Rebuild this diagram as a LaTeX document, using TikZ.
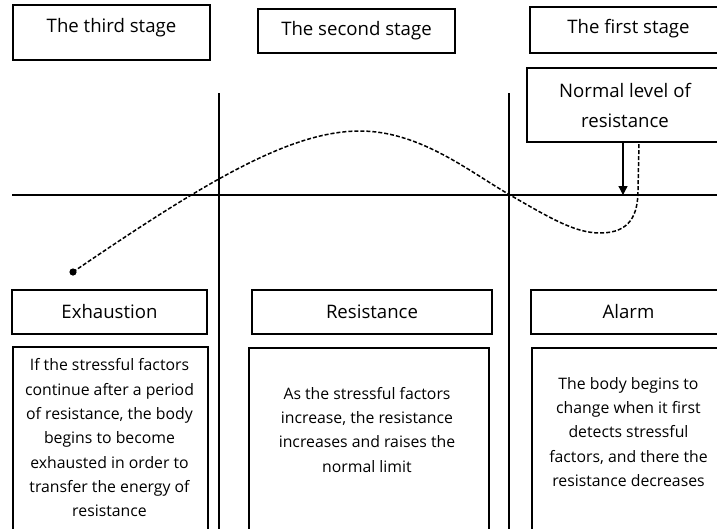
\documentclass[tikz,border=0pt]{standalone}
\usepackage{fontspec}
\setmainfont{Open Sans}[Ligatures=NoCommon]
\usetikzlibrary{arrows.meta}
\begin{document}
\begin{tikzpicture}[x=1pt,y=-1pt,
  box/.style={draw,line width=1.5pt,inner sep=0pt,minimum height=44pt},
  labbox/.style={box,font=\fontsize{18.6}{22}\selectfont},
  headtext/.style={inner sep=0pt,font=\fontsize{18.6}{22}\selectfont},
  descbox/.style={draw,line width=1.5pt,inner sep=0pt,anchor=north west},
  desctext/.style={anchor=north,inner sep=0pt,align=center,font=\fontsize{15.8}{24.3}\selectfont},
  axis/.style={line width=2pt},
  curve/.style={line width=1.5pt,dash pattern=on 4pt off 2pt}]
\useasboundingbox (0,0) rectangle (717,528);
\clip (0,0) rectangle (717,528);
\fill[white] (0,0) rectangle (717,528);

% top stage boxes
\node[box,minimum width=197pt,minimum height=55pt] (third) at (111.5,32.5) {};
\node[headtext] (thirdt) at (111.5,27.5) {The third stage};
\node[box,minimum width=197pt] (second) at (356.5,31) {};
\node[headtext] (secondt) at (356.5,31) {The second stage};
\node[box,minimum width=197pt,minimum height=46pt] (first) at (628.5,30) {};
\node[headtext] (firstt) at (628.5,29) {The first stage};
\node[box,minimum width=196pt,minimum height=74pt,align=center,font=\fontsize{18.6}{30}\selectfont] (normal) at (625,105) {Normal level of\\resistance};

% axes
\coordinate (hL) at (12,195);
\coordinate (hR) at (730,195);
\coordinate (v1t) at (219,93);
\coordinate (v1b) at (219,540);
\coordinate (v2t) at (509,93);
\coordinate (v2b) at (509,540);
\draw[axis] (hL) -- (hR);
\draw[axis] (v1t) -- (v1b);
\draw[axis] (v2t) -- (v2b);

% arrow from normal level box
\coordinate (arrtip) at (623,195);
\draw[line width=1.3pt,-{Triangle[length=9pt,width=9pt]}] (normal.south -| arrtip) -- (arrtip);

% dashed resistance curve
\coordinate (start) at (73,272);
\coordinate (peak) at (360,131);
\coordinate (cross) at (510,195);
\coordinate (low) at (600,233);
\coordinate (up) at (638,190);
\coordinate (endc) at (639,142);
\draw[curve] (start) .. controls (205,182) and (290,131) .. (peak)
  .. controls (420,131) and (470,172) .. (cross)
  .. controls (550,218) and (575,233) .. (low)
  .. controls (630,233) and (638,215) .. (up) -- (endc);
\fill (start) circle (3.6pt);

% stage name boxes
\node[labbox,minimum width=195pt] (exh) at (109.5,312) {Exhaustion};
\node[labbox,minimum width=240pt] (res) at (372,312) {Resistance};
\node[labbox,minimum width=195pt] (alarm) at (628.5,312) {Alarm};

% description boxes
\node[descbox,minimum width=195pt,minimum height=200pt] (exhd) at (12,346) {};
\node[descbox,minimum width=240pt,minimum height=200pt] (resd) at (248,347) {};
\node[descbox,minimum width=195pt,minimum height=200pt] (alarmd) at (531,347) {};

\node[desctext] (exht) at (109.5,358.5) {If the stressful factors\\continue after a period\\of resistance, the body\\begins to become\\exhausted in order to\\transfer the energy of\\resistance};
\node[desctext] (rest) at (367,387) {As the stressful factors\\increase, the resistance\\increases and raises the\\normal limit};
\node[desctext] (alarmt) at (628.5,377) {The body begins to\\change when it first\\detects stressful\\factors, and there the\\resistance decreases};
\end{tikzpicture}
\end{document}
